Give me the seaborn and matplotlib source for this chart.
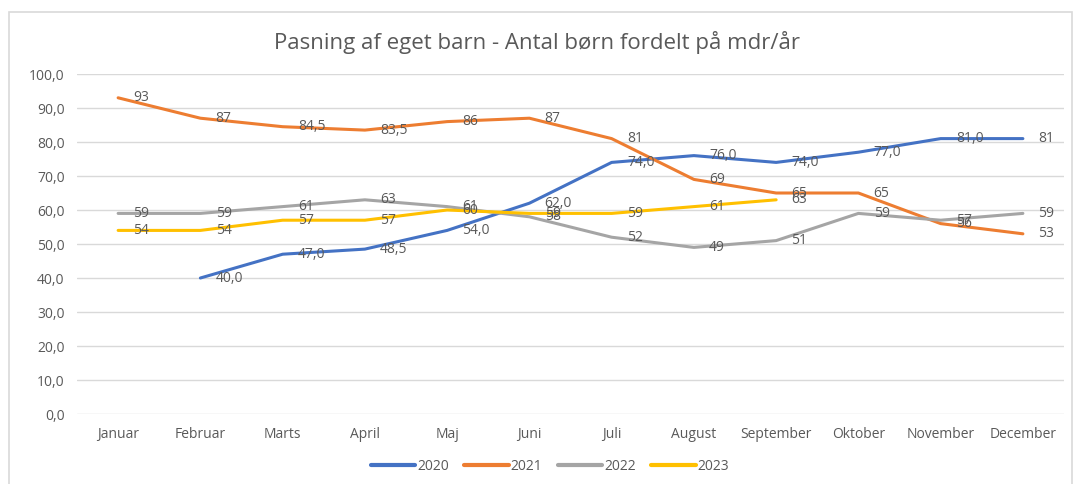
import numpy as np
import pandas as pd
import matplotlib
matplotlib.use('Agg')
import matplotlib.pyplot as plt
import seaborn as sns
from matplotlib.patches import Rectangle

# Data
maaneder = ['Januar', 'Februar', 'Marts', 'April', 'Maj', 'Juni', 'Juli',
            'August', 'September', 'Oktober', 'November', 'December']
aar = ['2020', '2021', '2022', '2023']
v2020 = [np.nan, 40, 47, 48.5, 54, 62, 74, 76, 74, 77, 81, 81]
v2021 = [93, 87, 84.5, 83.5, 86, 87, 81, 69, 65, 65, 56, 53]
v2022 = [59, 59, 61, 63, 61, 58, 52, 49, 51, 59, 57, 59]
v2023 = [54, 54, 57, 57, 60, 59, 59, 61, 63, np.nan, np.nan, np.nan]
labels_2020 = ['', '40,0', '47,0', '48,5', '54,0', '62,0', '74,0', '76,0',
               '74,0', '77,0', '81,0', '81']
farver = ['#4472C4', '#ED7D31', '#A5A5A5', '#FFC000']

serier = {'2020': v2020, '2021': v2021, '2022': v2022, '2023': v2023}

rows = []
for a, vals in serier.items():
    for i, v in enumerate(vals):
        if not np.isnan(v):
            rows.append({'idx': i, 'maaned': maaneder[i], 'aar': a, 'antal': v})
df = pd.DataFrame(rows)

sns.set_style('white')
plt.rcParams['font.family'] = ['Open Sans', 'DejaVu Sans']

fig = plt.figure(figsize=(10.74, 4.84), dpi=100)
ax = fig.add_axes([0.0717, 0.1446, 0.9190, 0.7025])

# ydre ramme om diagrammet
fig.patches.append(Rectangle((9 / 1074, -0.05), 1063 / 1074, 1.05 - 12 / 484,
                             transform=fig.transFigure, fill=False,
                             edgecolor='#D9D9D9', linewidth=1.2))

sns.lineplot(data=df, x='idx', y='antal', hue='aar', hue_order=aar,
             palette=farver, linewidth=2.2, ax=ax, legend=False)

# dataetiketter
txt_color = '#595959'
for a, vals in serier.items():
    for i, v in enumerate(vals):
        if np.isnan(v):
            continue
        if a == '2020':
            lab = labels_2020[i]
        else:
            lab = f'{v:g}'.replace('.', ',')
        ax.annotate(lab, (i, v), xytext=(11, 0), textcoords='offset points',
                    va='center', ha='left', fontsize=10, color=txt_color)

ax.set_xlim(-0.5, 11.5)
ax.set_ylim(0, 100)
ax.set_xticks(range(12))
ax.set_xticklabels(maaneder)
ax.set_yticks(np.arange(0, 101, 10))
ax.set_yticklabels([f'{t:.1f}'.replace('.', ',') for t in np.arange(0, 101, 10)])
ax.tick_params(axis='both', colors='#595959', labelsize=10, length=0)
ax.tick_params(axis='x', pad=9)
ax.tick_params(axis='y', pad=9)
ax.yaxis.grid(True, color='#D9D9D9', linewidth=1)
ax.set_axisbelow(True)
for s in ax.spines.values():
    s.set_visible(False)
ax.set_xlabel('')
ax.set_ylabel('')

fig.text(0.5, 0.913, 'Pasning af eget barn - Antal børn fordelt på mdr/år',
         ha='center', va='center', fontsize=16, color='#595959')

handles = [plt.Line2D([], [], color=c, linewidth=3) for c in farver]
fig.legend(handles, aar, loc='center', bbox_to_anchor=(0.512, 0.037), ncol=4,
           frameon=False, fontsize=10, labelcolor='#595959', handlelength=3.2,
           handletextpad=0.15, columnspacing=1.1)

fig.savefig('out.png', dpi=100)
